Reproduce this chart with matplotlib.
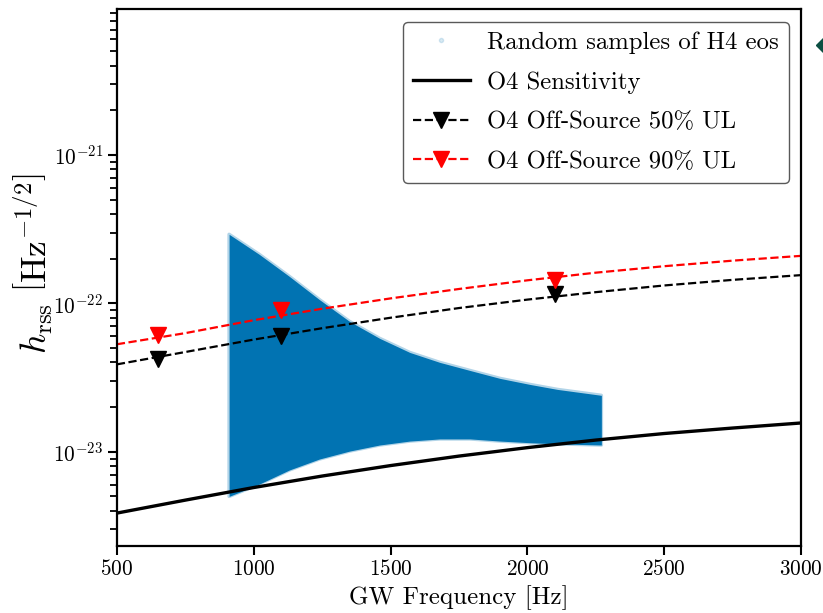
import matplotlib
matplotlib.use("Agg")
import matplotlib.pyplot as plt
from matplotlib.lines import Line2D

# O4 sensitivity curve and off-source upper-limit curves
curve_freq = [500, 750, 1000, 1250, 1500, 1750, 2000, 2250, 2500, 2750, 3000]
sensitivity = [3.86e-24, 4.72e-24, 5.74e-24, 6.86e-24, 8.07e-24, 9.35e-24,
               1.066e-23, 1.199e-23, 1.327e-23, 1.445e-23, 1.563e-23]
ul50_curve = [3.88e-23, 4.7e-23, 5.7e-23, 6.8e-23, 8.0e-23, 9.3e-23,
              1.06e-22, 1.19e-22, 1.32e-22, 1.44e-22, 1.55e-22]
ul90_curve = [5.3e-23, 6.3e-23, 7.7e-23, 9.2e-23, 1.08e-22, 1.25e-22,
              1.43e-22, 1.61e-22, 1.78e-22, 1.94e-22, 2.09e-22]

# injected waveforms with measured upper limits
ul_freq = [650, 1100, 2100]
ul50 = [4.2e-23, 6.0e-23, 1.15e-22]
ul90 = [6.1e-23, 9.0e-23, 1.44e-22]

# envelope of the H4 eos samples
eos_freq = [910, 1020, 1130, 1240, 1350, 1460, 1570, 1680, 1790, 1900, 2010, 2110, 2270]
eos_high = [2.92e-22, 2.14e-22, 1.52e-22, 1.06e-22, 7.56e-23, 5.81e-23, 4.67e-23,
            4.0e-23, 3.53e-23, 3.12e-23, 2.84e-23, 2.63e-23, 2.4e-23]
eos_low = [5.0e-24, 6.05e-24, 7.53e-24, 8.93e-24, 1.01e-23, 1.11e-23, 1.18e-23,
           1.22e-23, 1.22e-23, 1.18e-23, 1.15e-23, 1.13e-23, 1.11e-23]

yticks = [1e-23, 1e-22, 1e-21]

plt.rcParams.update({
    "font.family": "serif",
    "font.serif": ["cmr10"],
    "mathtext.fontset": "cm",
    "axes.unicode_minus": False,
    "axes.formatter.use_mathtext": True,
})

blue = "#0173b2"

fig = plt.figure(figsize=(8.23, 6.13), dpi=100)
ax = fig.add_axes([0.142, 0.109, 0.8315, 0.876])

ax.fill_between(eos_freq, eos_low, eos_high, color=blue, lw=0)
ax.fill_between(eos_freq, eos_low, eos_high, facecolor="none",
                edgecolor=(0.004, 0.45, 0.7, 0.3), lw=2.5)

ax.plot(curve_freq, sensitivity, color="black", lw=2.4)
ax.plot(curve_freq, ul50_curve, color="black", ls="--", lw=1.6)
ax.plot(curve_freq, ul90_curve, color="red", ls="--", lw=1.6)
ax.plot(ul_freq, ul50, ls="", marker="v", ms=11, color="black")
ax.plot(ul_freq, ul90, ls="", marker="v", ms=11, color="red")

ax.set_yscale("log")
ax.set_xlim(500, 3000)
ax.set_ylim(2.31e-24, 9.6e-21)
ax.set_yticks(yticks)
ax.set_xlabel("GW Frequency [Hz]", fontsize=18)
ax.set_ylabel(r"$h_{\rm rss}\ \left[{\rm Hz}^{-1/2}\right]$", fontsize=25.5)
ax.yaxis.set_label_coords(-0.09, 0.527)

ax.tick_params(axis="both", which="major", labelsize=15.3, length=6.5, width=1.5)
ax.tick_params(axis="x", pad=3)
ax.tick_params(axis="y", which="minor", length=5, width=1.3)
for s in ax.spines.values():
    s.set_linewidth(1.6)

handles = [
    Line2D([], [], ls="", marker="o", ms=3, color=blue, alpha=0.15),
    Line2D([], [], color="black", lw=2.4),
    Line2D([], [], color="black", ls="--", lw=1.6, marker="v", ms=11),
    Line2D([], [], color="red", ls="--", lw=1.6, marker="v", ms=11),
]
labels = ["Random samples of H4 eos", "O4 Sensitivity",
          "O4 Off-Source 50% UL", "O4 Off-Source 90% UL"]
leg = ax.legend(handles, labels, loc="upper right", fontsize=17.8,
                handlelength=2.3, handletextpad=0.7, labelspacing=0.7,
                borderaxespad=0.5, framealpha=1)
leg.get_frame().set_edgecolor("0.35")

# slide marker peeking in at the right edge
fig.add_artist(Line2D([1.004], [0.927], transform=fig.transFigure, marker="D",
                      ms=10, color="#0b4f42", ls=""))

fig.savefig("out.png", dpi=100)
